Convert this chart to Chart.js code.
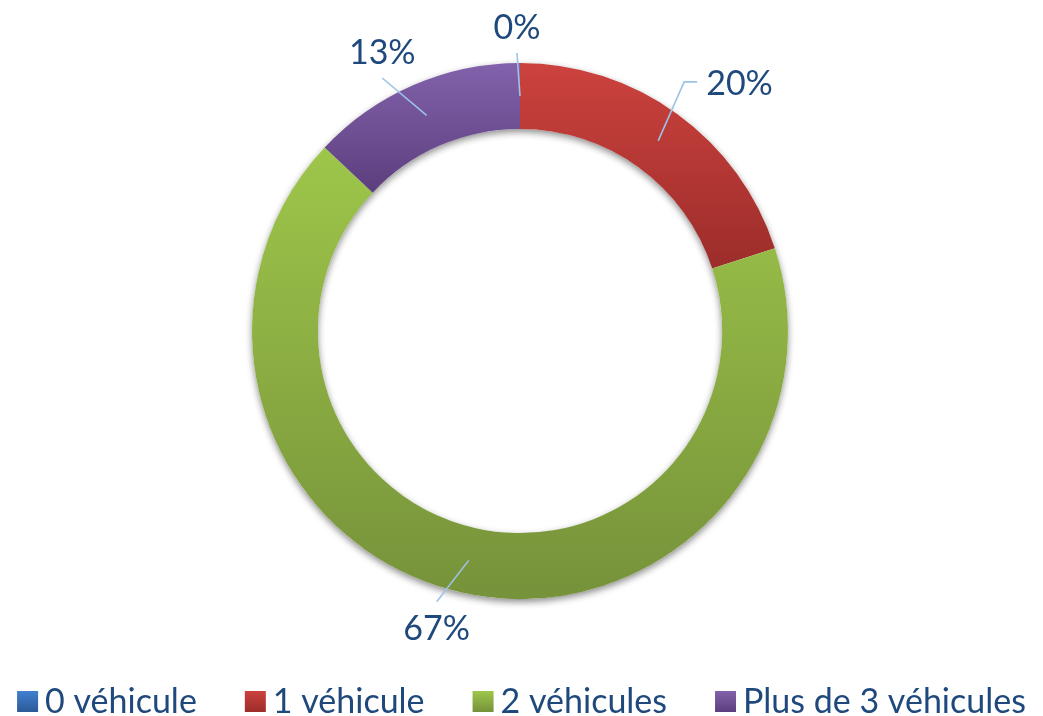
<!DOCTYPE html>
<html><head><meta charset="utf-8">
<script src="https://cdn.jsdelivr.net/npm/chart.js@4.4.1/dist/chart.umd.min.js"></script>
<style>html,body{margin:0;padding:0;background:#fff;}#wrap{width:1043px;height:716px;position:relative;}</style>
</head><body><div id="wrap"><canvas id="c"></canvas></div>
<script>
const categories = ['0 véhicule', '1 véhicule', '2 véhicules', 'Plus de 3 véhicules'];
const values = [0, 20, 67, 13];
const valueLabels = ['0%', '20%', '67%', '13%'];
const topColors = ['#4080d0', '#cc423e', '#9ec64a', '#8262ab'];
const bottomColors = ['#2b5a98', '#9c2d2a', '#76923a', '#5c3e7e'];

const FONT = '34px Lato, "Open Sans", sans-serif';
const TEXT_COLOR = '#1f497d';
const LEADER_COLOR = '#9dc3e6';

function arcYRange(cx, cy, ri, ro, a0, a1) {
  let minY = Infinity, maxY = -Infinity;
  const n = 60;
  for (let k = 0; k <= n; k++) {
    const a = a0 + (a1 - a0) * k / n;
    for (const r of [ri, ro]) {
      const y = cy + r * Math.sin(a);
      if (y < minY) minY = y;
      if (y > maxY) maxY = y;
    }
  }
  return [minY, maxY];
}

function sliceGradient(ctx) {
  const chart = ctx.chart;
  const i = ctx.dataIndex;
  const ca = chart.chartArea;
  const meta = chart.getDatasetMeta(0);
  const ctrl = meta.controller;
  if (!ca || !ctrl || !ctrl.outerRadius) return topColors[i];
  const total = values.reduce((s, v) => s + v, 0);
  let before = 0;
  for (let k = 0; k < i; k++) before += values[k];
  const a0 = -Math.PI / 2 + 2 * Math.PI * before / total;
  const a1 = a0 + 2 * Math.PI * values[i] / total;
  const cx = (ca.left + ca.right) / 2, cy = (ca.top + ca.bottom) / 2;
  const [y0, y1] = arcYRange(cx, cy, ctrl.innerRadius, ctrl.outerRadius, a0, a1);
  const g = chart.ctx.createLinearGradient(0, y0, 0, Math.max(y1, y0 + 1));
  g.addColorStop(0, topColors[i]);
  g.addColorStop(1, bottomColors[i]);
  return g;
}

const shadowPlugin = {
  id: 'ringShadow',
  beforeDatasetsDraw(chart) {
    const el = chart.getDatasetMeta(0).data[0];
    if (!el) return;
    const { x, y, innerRadius, outerRadius } = el.getProps(['x', 'y', 'innerRadius', 'outerRadius'], true);
    const c = chart.ctx;
    c.save();
    c.shadowColor = 'rgba(0,0,0,0.45)';
    c.shadowBlur = 7;
    c.shadowOffsetY = 3;
    c.fillStyle = '#ffffff';
    c.beginPath();
    c.arc(x, y, outerRadius, 0, Math.PI * 2);
    c.arc(x, y, innerRadius, Math.PI * 2, 0, true);
    c.closePath();
    c.fill();
    c.restore();
  }
};

const labelPlugin = {
  id: 'valueLabels',
  afterDatasetsDraw(chart) {
    const meta = chart.getDatasetMeta(0);
    const c = chart.ctx;
    c.save();
    c.font = FONT;
    c.fillStyle = TEXT_COLOR;
    c.strokeStyle = LEADER_COLOR;
    c.lineWidth = 1.6;
    const capH = 24.5;
    meta.data.forEach((el, i) => {
      const p = el.getProps(['x', 'y', 'startAngle', 'endAngle', 'innerRadius', 'outerRadius'], true);
      const mid = (p.startAngle + p.endAngle) / 2;
      const cos = Math.cos(mid), sin = Math.sin(mid);
      const rMid = (p.innerRadius + p.outerRadius) / 2;
      const x1 = p.x + rMid * cos, y1 = p.y + rMid * sin;
      if (Math.abs(cos) > 0.5) {
        const dir = cos > 0 ? 1 : -1;
        const r2 = p.outerRadius + 30;
        const x2 = p.x + r2 * cos - dir * 11, y2 = p.y + r2 * sin - 8;
        const x3 = x2 + dir * 13;
        c.beginPath();
        c.moveTo(x1, y1); c.lineTo(x2, y2); c.lineTo(x3, y2);
        c.stroke();
        c.textAlign = dir > 0 ? 'left' : 'right';
        c.textBaseline = 'alphabetic';
        c.fillText(valueLabels[i], x3 + dir * 9, y2 + capH / 2 + 1);
      } else {
        const r3 = p.outerRadius + 36;
        const shift = cos < -0.1 ? -17 : (cos > 0.1 ? 17 : -3);
        const tx = p.x + r3 * cos + shift, ty = p.y + r3 * sin;
        const vs = sin < 0 ? 1 : -1;
        const x2 = tx, y2 = ty + vs * 26;
        c.beginPath();
        c.moveTo(x1, y1); c.lineTo(x2, y2);
        c.stroke();
        c.textAlign = 'center';
        c.textBaseline = 'alphabetic';
        c.fillText(valueLabels[i], tx, ty + capH / 2);
      }
    });
    c.restore();
  }
};

const legendPlugin = {
  id: 'bottomLegend',
  afterDraw(chart) {
    const c = chart.ctx;
    c.save();
    c.font = FONT;
    const box = 21, boxGap = 7, itemGap = 48;
    const widths = categories.map(t => c.measureText(t).width);
    const total = widths.reduce((s, w) => s + w + box + boxGap, 0) + itemGap * (categories.length - 1);
    let x = (chart.width - total) / 2;
    const baseline = chart.height - 3;
    const boxTop = baseline - 22;
    categories.forEach((t, i) => {
      const g = c.createLinearGradient(0, boxTop, 0, boxTop + box);
      g.addColorStop(0, topColors[i]);
      g.addColorStop(1, bottomColors[i]);
      c.fillStyle = g;
      c.fillRect(x, boxTop, box, box);
      c.fillStyle = TEXT_COLOR;
      c.textAlign = 'left';
      c.textBaseline = 'alphabetic';
      c.fillText(t, x + box + boxGap, baseline);
      x += box + boxGap + widths[i] + itemGap;
    });
    c.restore();
  }
};

new Chart(document.getElementById('c'), {
  type: 'doughnut',
  data: {
    labels: categories,
    datasets: [{
      data: values,
      backgroundColor: sliceGradient,
      borderWidth: 0,
      radius: 268,
      cutout: '75.4%'
    }]
  },
  options: {
    responsive: true,
    maintainAspectRatio: false,
    animation: false,
    layout: { padding: { top: 0, left: 0, right: 3, bottom: 54 } },
    plugins: { legend: { display: false }, tooltip: { enabled: false } }
  },
  plugins: [shadowPlugin, labelPlugin, legendPlugin]
});
</script>
</body></html>
